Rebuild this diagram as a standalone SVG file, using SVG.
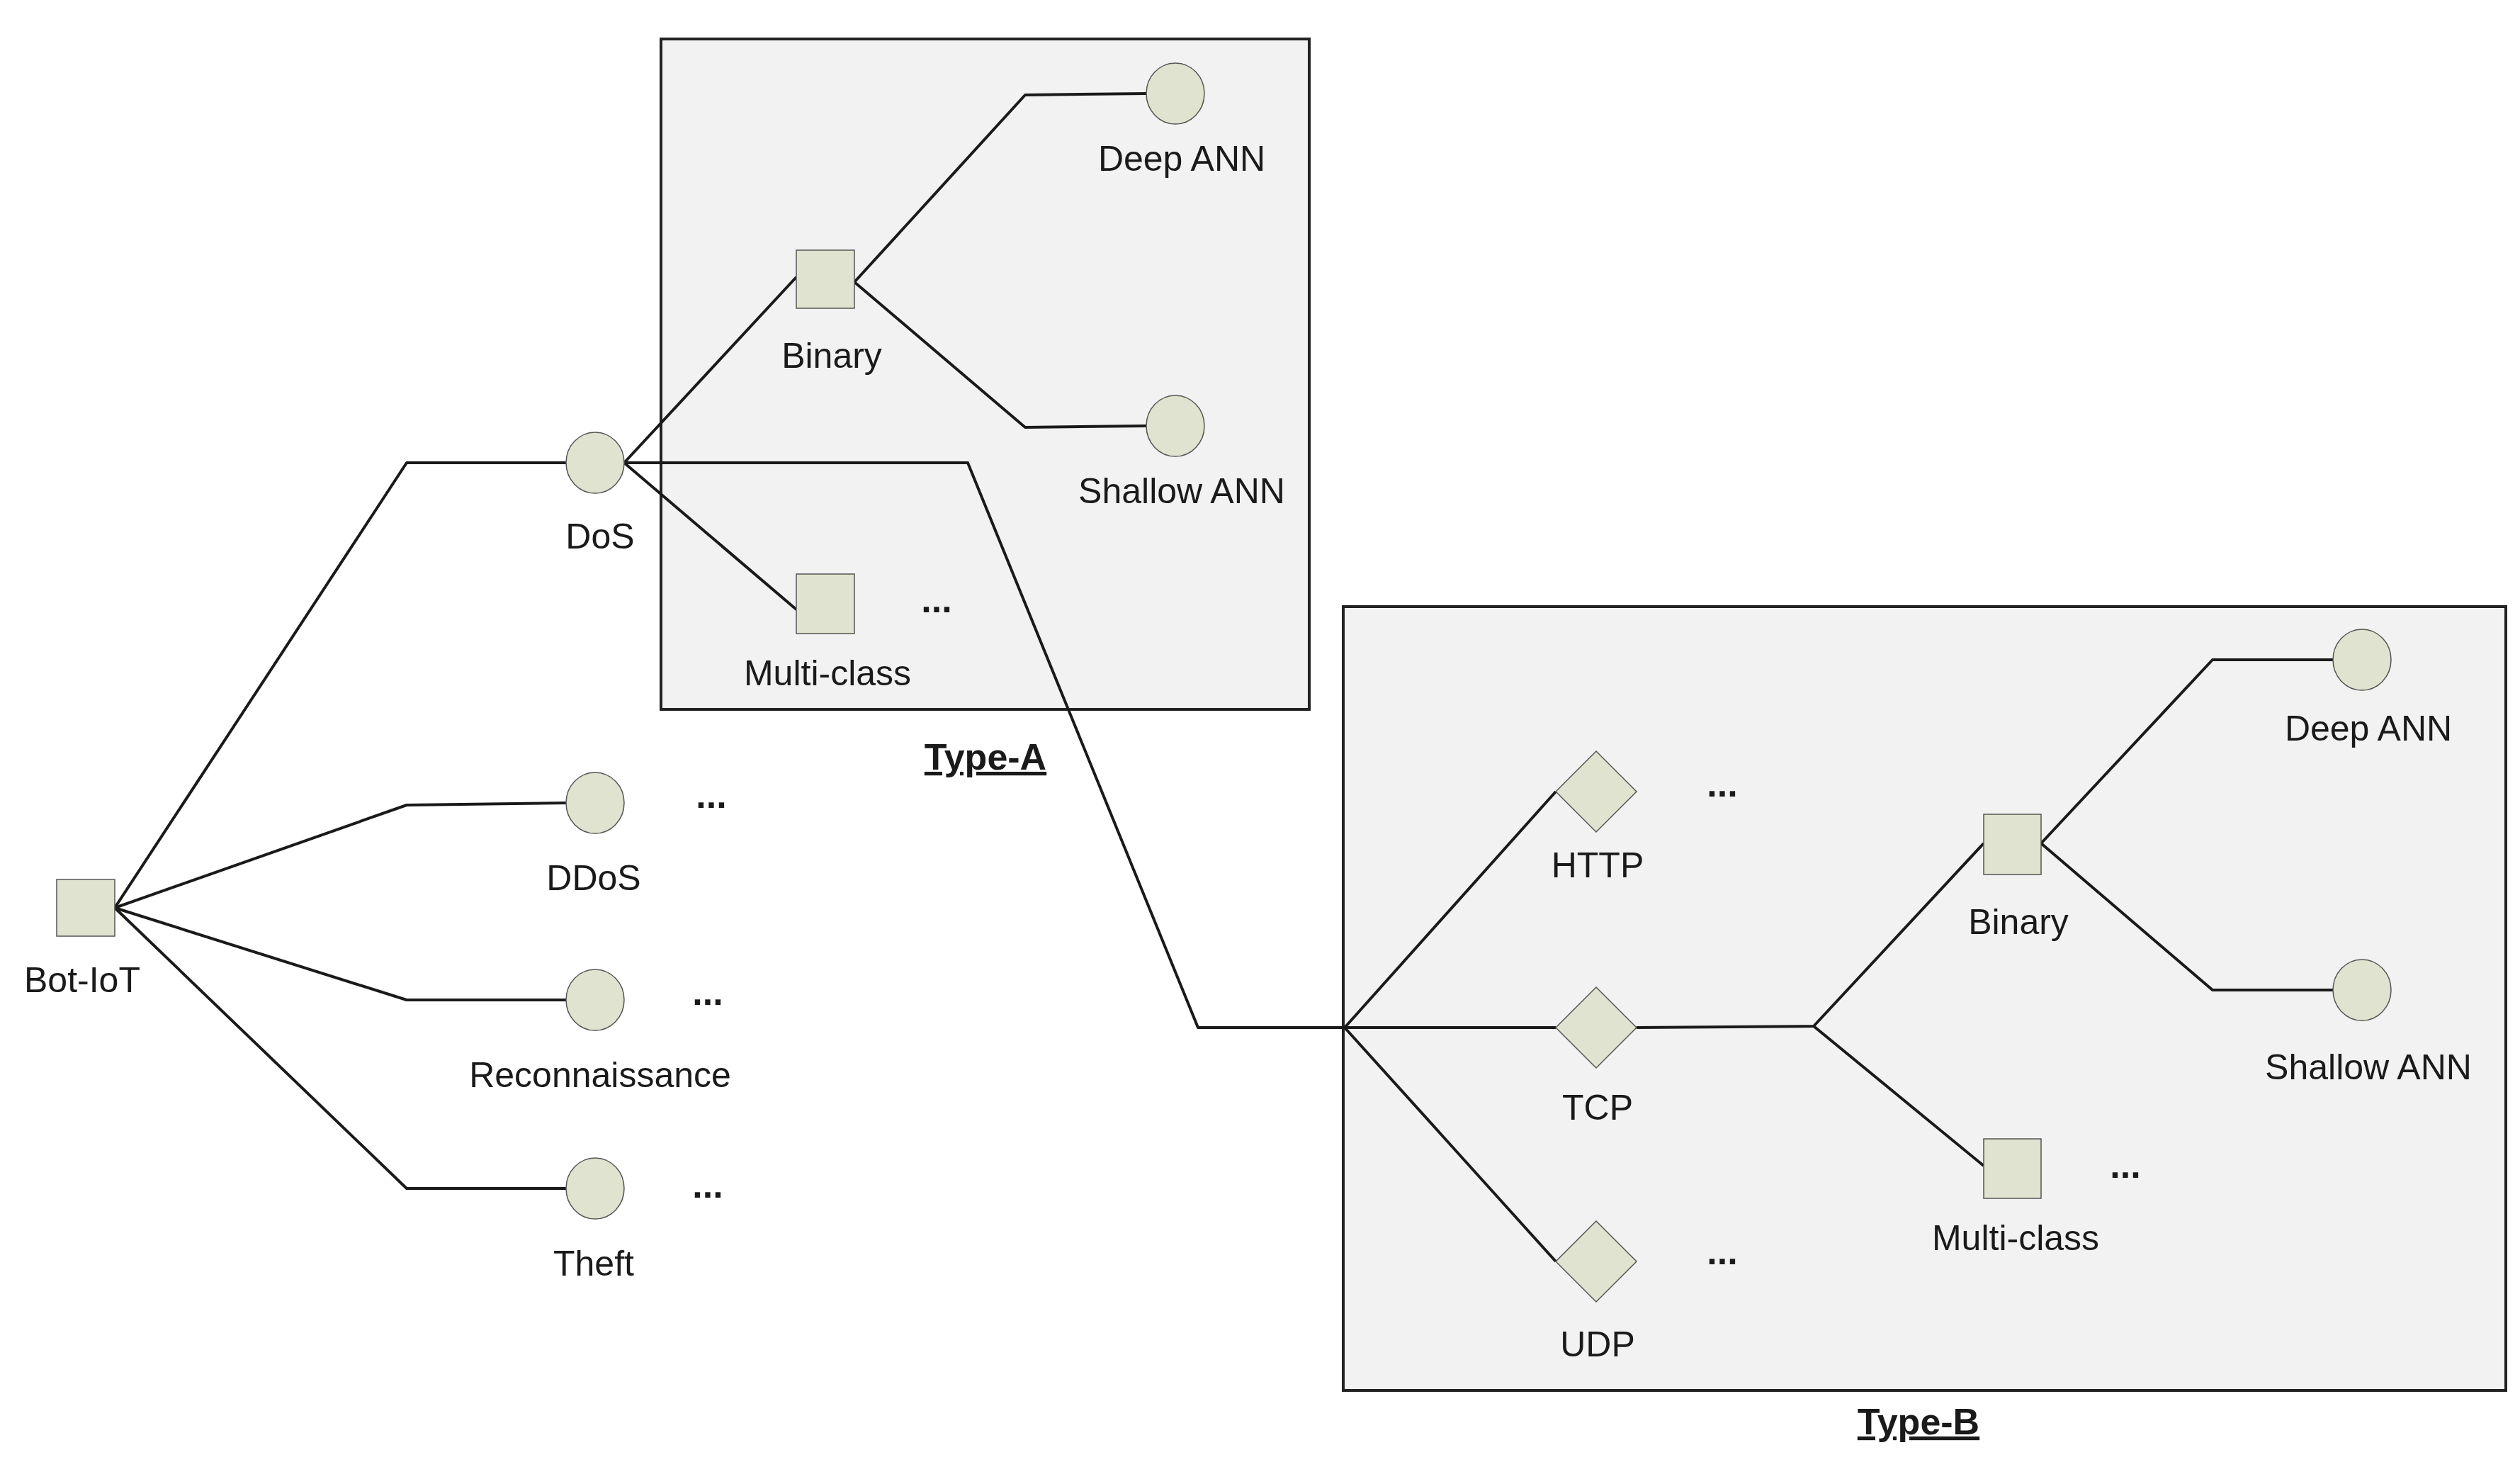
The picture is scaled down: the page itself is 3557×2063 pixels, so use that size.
<svg xmlns="http://www.w3.org/2000/svg" width="3557" height="2063" viewBox="0 0 3557 2063">
<style>
.box{fill:#f2f2f2;stroke:#222;stroke-width:4}
.n{fill:#dfe3cf;stroke:#555;stroke-width:1.5}
.c{fill:none;stroke:#1a1a1a;stroke-width:4;stroke-linejoin:round}
text{font-family:"Liberation Sans",Arial,sans-serif;font-size:50px;fill:#1a1a1a;text-anchor:middle}
.d{font-weight:bold;font-size:52px}
.t{font-weight:bold;font-size:52px;text-decoration:underline}
</style>
<rect width="3557" height="2063" fill="#fff"/>
<g id="typeA"><rect class="box" x="933" y="55" width="915" height="946"/><text class="t" x="1391" y="1086">Type-A</text></g>
<g id="typeB"><rect class="box" x="1896" y="856" width="1641" height="1106"/><text class="t" x="2708" y="2024">Type-B</text></g>
<g id="connectors">
<polyline class="c" points="162,1281 574,653 799,653"/>
<polyline class="c" points="162,1281 574,1136 799,1133"/>
<polyline class="c" points="162,1281 574,1411 799,1411"/>
<polyline class="c" points="162,1281 574,1677 799,1677"/>
<polyline class="c" points="881,653 1124,391"/>
<polyline class="c" points="881,653 1124,860"/>
<polyline class="c" points="1206,398 1447,134 1618,132"/>
<polyline class="c" points="1206,398 1447,603 1618,601"/>
<polyline class="c" points="881,653 1366,653 1691,1450 1898,1450"/>
<polyline class="c" points="1898,1450 2196,1117"/>
<polyline class="c" points="1898,1450 2196,1450"/>
<polyline class="c" points="1898,1450 2196,1780"/>
<polyline class="c" points="2310,1450 2560,1448 2800,1190"/>
<polyline class="c" points="2560,1448 2800,1645"/>
<polyline class="c" points="2881,1190 3123,931 3293,931"/>
<polyline class="c" points="2881,1190 3123,1397 3293,1397"/>
</g>
<g id="botiot"><rect class="n" x="80" y="1241" width="82" height="80"/><text x="116" y="1400">Bot-IoT</text></g>
<g id="dos"><ellipse class="n" cx="840" cy="653" rx="41" ry="43"/><text x="847" y="774">DoS</text></g>
<g id="ddos"><ellipse class="n" cx="840" cy="1133" rx="41" ry="43"/><text x="838" y="1256">DDoS</text><text class="d" x="1004" y="1140">...</text></g>
<g id="recon"><ellipse class="n" cx="840" cy="1411" rx="41" ry="43"/><text x="847" y="1534">Reconnaissance</text><text class="d" x="999" y="1418">...</text></g>
<g id="theft"><ellipse class="n" cx="840" cy="1677" rx="41" ry="43"/><text x="838" y="1800">Theft</text><text class="d" x="999" y="1690">...</text></g>
<g id="a-binary"><rect class="n" x="1124" y="353" width="82" height="82"/><text x="1174" y="519">Binary</text></g>
<g id="a-multi"><rect class="n" x="1124" y="810" width="82" height="84"/><text x="1168" y="967">Multi-class</text><text class="d" x="1322" y="864">...</text></g>
<g id="a-deep"><ellipse class="n" cx="1659" cy="132" rx="41" ry="43"/><text x="1668" y="241">Deep ANN</text></g>
<g id="a-shallow"><ellipse class="n" cx="1659" cy="601" rx="41" ry="43"/><text x="1668" y="710">Shallow ANN</text></g>
<g id="http"><polygon class="n" points="2253,1060 2310,1117 2253,1174 2196,1117"/><text x="2255" y="1238">HTTP</text><text class="d" x="2431" y="1124">...</text></g>
<g id="tcp"><polygon class="n" points="2253,1393 2310,1450 2253,1507 2196,1450"/><text x="2255" y="1580">TCP</text></g>
<g id="udp"><polygon class="n" points="2253,1723 2310,1780 2253,1837 2196,1780"/><text x="2255" y="1914">UDP</text><text class="d" x="2431" y="1784">...</text></g>
<g id="b-binary"><rect class="n" x="2800" y="1149" width="81" height="85"/><text x="2849" y="1318">Binary</text></g>
<g id="b-multi"><rect class="n" x="2800" y="1607" width="81" height="84"/><text x="2845" y="1764">Multi-class</text><text class="d" x="3000" y="1662">...</text></g>
<g id="b-deep"><ellipse class="n" cx="3334" cy="931" rx="41" ry="43"/><text x="3343" y="1045">Deep ANN</text></g>
<g id="b-shallow"><ellipse class="n" cx="3334" cy="1397" rx="41" ry="43"/><text x="3343" y="1523">Shallow ANN</text></g>
</svg>
